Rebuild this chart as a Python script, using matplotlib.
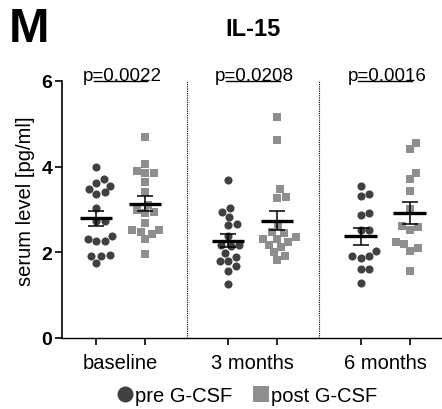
import numpy as np
import matplotlib
matplotlib.use("Agg")
import matplotlib.pyplot as plt
from matplotlib.lines import Line2D

plt.rcParams['font.family'] = ['Liberation Sans', 'DejaVu Sans']

# ---------------- data ----------------
groups = ["baseline", "3 months", "6 months"]
pre_baseline = [4.00, 3.71, 3.63, 3.48, 3.55, 3.36, 3.40, 3.04, 2.73, 2.73,
                2.37, 2.27, 2.27, 2.31, 1.91, 1.91, 1.94, 1.75]
post_baseline = [4.69, 4.07, 3.86, 3.86, 3.91, 3.65, 3.42, 3.11, 2.95, 2.99,
                 2.92, 2.69, 2.51, 2.43, 2.48, 2.53, 2.30, 1.95]
pre_3m = [3.69, 3.04, 2.94, 2.83, 2.63, 2.66, 2.37, 2.15, 2.18, 2.16,
          1.90, 1.99, 1.80, 1.80, 1.67, 1.57, 1.25]
post_3m = [5.17, 4.63, 3.47, 3.30, 3.28, 2.62, 2.47, 2.44, 2.31, 2.25,
           2.31, 2.35, 2.12, 2.16, 1.81, 1.91, 2.00]
pre_6m = [3.56, 3.36, 3.31, 2.86, 2.91, 2.52, 2.52, 2.04, 1.92, 1.87,
          1.92, 1.61, 1.61, 1.28]
post_6m = [4.56, 4.42, 3.85, 3.71, 3.44, 3.01, 2.62, 2.51, 2.58, 2.25,
           2.11, 2.04, 2.20, 1.57]
pre_series = [pre_baseline, pre_3m, pre_6m]
post_series = [post_baseline, post_3m, post_6m]
p_values = ["p=0.0022", "p=0.0208", "p=0.0016"]
y_ticks = [0, 2, 4, 6]
series_labels = ["pre G-CSF", "post G-CSF"]

# ---------------- figure ----------------
W, H, DPI = 442, 410, 100
fig = plt.figure(figsize=(W / DPI, H / DPI), dpi=DPI)
ax_left, ax_right, ax_bottom, ax_top = 62, 442, 339, 82
ax = fig.add_axes([ax_left / W, 1 - ax_bottom / H,
                   (ax_right - ax_left) / W, (ax_bottom - ax_top) / H])

group_gap = 2.7
xlim = (-0.694, 7.061)
ylim = (0, 6)
ax.set_xlim(*xlim)
ax.set_ylim(*ylim)

px_per_x = (ax_right - ax_left) / (xlim[1] - xlim[0])
px_per_y = (ax_bottom - ax_top) / (ylim[1] - ylim[0])


def beeswarm(vals, diam_px=8.6, step=0.25):
    vals = np.asarray(vals, float)
    order = np.argsort(vals)
    placed = []
    offs = np.zeros(len(vals))
    for i in order:
        ypx = vals[i] * px_per_y
        k = 0
        while True:
            cands = [0.0] if k == 0 else [k * step, -k * step]
            ok = None
            for c in cands:
                if all((c - px) ** 2 + (ypx - py) ** 2 >= diam_px ** 2 for px, py in placed):
                    ok = c
                    break
            if ok is not None:
                placed.append((ok, ypx))
                offs[i] = ok / px_per_x
                break
            k += 1
    return offs


c_pre = "#404040"
c_post = "#8e8e8e"
ms = 34

for g in range(3):
    for j, (vals, marker, col) in enumerate([(pre_series[g], "o", c_pre),
                                              (post_series[g], "s", c_post)]):
        x0 = g * group_gap + j
        offs = beeswarm(vals)
        ax.scatter(x0 + offs, vals, s=ms, marker=marker, color=col,
                   linewidths=0, zorder=3, clip_on=False)
        v = np.asarray(vals)
        m = v.mean()
        sem = v.std(ddof=1) / np.sqrt(len(v))
        ax.plot([x0 - 0.33, x0 + 0.33], [m, m], color="black", lw=2.4,
                zorder=5, solid_capstyle="butt")
        ax.errorbar([x0], [m], yerr=[sem], color="black", lw=1.1, capsize=6,
                    capthick=1.1, zorder=5, fmt="none")
    # significance line and text
    xa, xb = g * group_gap, g * group_gap + 1
    ax.plot([xa - 0.05, xb + 0.05], [6.0, 6.0], color="black", lw=1.0,
            clip_on=False, zorder=4)
    ax.text((xa + xb) / 2 + 0.04, 6.035, p_values[g], ha="center",
            va="baseline", fontsize=13.5, clip_on=False)
    # separators
    if g < 2:
        sx = g * group_gap + 1 + (group_gap - 1) / 2
        ax.plot([sx, sx], [0, 6], color="black", lw=0.8, ls=(0, (1, 1)),
                zorder=1)

# axes styling
for s in ["top", "right"]:
    ax.spines[s].set_visible(False)
ax.spines["left"].set_linewidth(1.2)
ax.spines["bottom"].set_linewidth(1.0)
ax.spines["bottom"].set_linestyle((0, (1, 1)))
ax.set_yticks(y_ticks)
ax.set_yticklabels([str(t) for t in y_ticks], fontweight="bold", fontsize=14)
tick_pos = []
for g in range(3):
    tick_pos += [g * group_gap, g * group_gap + 1]
ax.set_xticks(tick_pos)
ax.set_xticklabels([""] * len(tick_pos))
ax.tick_params(axis="y", length=5, width=1.2, pad=2)
ax.tick_params(axis="x", length=5, width=1.2)
for g, name in enumerate(groups):
    ax.text(g * group_gap + 0.5, -0.36, name, ha="center", va="top",
            fontsize=14.5)

ax.set_ylabel("serum level [pg/ml]", fontsize=14.5)
ax.yaxis.set_label_coords(-0.07, 0.535)

# title and panel letter
fig.text(253.5 / W, 1 - 29 / H, "IL-15", ha="center", va="center",
         fontsize=17, fontweight="bold")
fig.text(9 / W, 1 - 30 / H, "M", ha="left", va="center",
         fontsize=35, fontweight="bold")

handles = [Line2D([], [], marker="o", ls="", color=c_pre, markersize=11.5,
                  markeredgewidth=0, label=series_labels[0]),
           Line2D([], [], marker="s", ls="", color=c_post, markersize=11,
                  markeredgewidth=0, markeredgecolor="#666666",
                  label=series_labels[1])]
fig.legend(handles=handles, loc="center", bbox_to_anchor=(0.557, 1 - 397 / H),
           ncol=2, frameon=False, fontsize=14.5, handletextpad=0.0,
           columnspacing=0.9, handlelength=1.0, borderpad=0)

fig.savefig("out.png", dpi=DPI)
